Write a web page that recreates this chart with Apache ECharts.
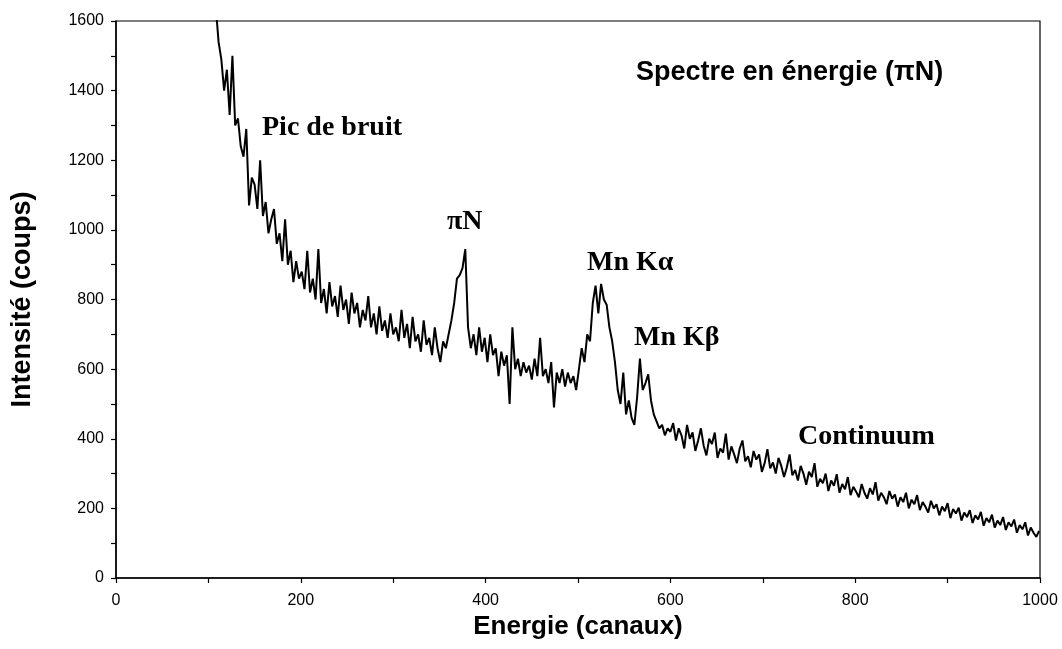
<!DOCTYPE html>
<html>
<head>
<meta charset="utf-8">
<script src="https://cdn.jsdelivr.net/npm/echarts@6/dist/echarts.min.js"></script>
<style>html,body{margin:0;padding:0;background:#fff;}#c{width:1062px;height:649px;}</style>
</head>
<body>
<div id="c"></div>
<script>
// Channel axis (canaux): first channel and step between listed values
const firstChannel = 108;
const channelStep = 3;
// Counts (coups), one per listed channel
const counts = [
  1640,1540,1490,1400,1460,1330,1500,1300,1320,1240,1210,1290,1070,1150,1130,1060,1200,1040,1080,990,
  1030,1060,960,990,910,1030,900,940,850,910,860,880,830,940,820,860,800,945,790,830,
  760,850,780,810,750,840,770,800,730,820,760,790,720,770,740,810,720,760,700,780,
  710,740,690,760,700,720,680,770,690,730,660,750,680,700,650,740,670,690,640,720,
  660,620,680,660,700,740,790,860,870,890,945,720,660,700,640,720,650,690,620,700,
  640,660,580,650,610,640,500,720,600,630,580,620,590,610,570,630,580,690,580,600,
  560,620,490,590,560,600,550,590,560,580,540,600,660,620,700,680,790,840,760,845,
  800,785,720,680,620,540,500,590,470,510,460,440,520,630,540,560,585,510,470,450,
  430,440,410,430,
  420,445,395,430,410,372,440,400,418,365,395,430,380,352,400,385,418,345,372,360,
  415,340,378,355,330,372,395,335,350,318,365,340,355,305,330,370,315,332,300,345,
  322,290,318,355,295,310,280,322,300,268,305,290,330,262,285,272,300,250,280,265,
  298,245,270,255,290,238,262,248,232,270,245,228,258,240,275,222,245,232,212,250,
  228,240,205,232,218,245,200,225,212,238,195,218,205,188,222,200,212,180,205,192,
  215,172,198,185,202,165,188,175,195,158,180,168,190,150,172,160,182,145,165,152,
  175,138,160,148,168,130,152,140,160,122,145,130,118,135
];
const yTicks = [0, 200, 400, 600, 800, 1000, 1200, 1400, 1600];
const xTicks = [0, 200, 400, 600, 800, 1000];

const seriesData = counts.map((v, i) => [firstChannel + i * channelStep, v]);

const chart = echarts.init(document.getElementById('c'), null, {renderer: 'canvas'});
const tickFont = 'Liberation Sans';
const serifLabel = 'bold 28px "Liberation Serif"';
chart.setOption({
  animation: false,
  backgroundColor: '#fff',
  grid: {left: 116, right: 22, top: 21, bottom: 71, show: true, borderColor: '#000', borderWidth: 1.2, backgroundColor: 'transparent'},
  xAxis: {
    type: 'value', min: xTicks[0], max: xTicks[xTicks.length - 1], interval: 200,
    name: 'Energie (canaux)', nameLocation: 'middle', nameGap: 36,
    nameTextStyle: {fontFamily: 'Liberation Sans', fontWeight: 'bold', fontSize: 26, color: '#000'},
    axisLine: {show: true, lineStyle: {color: '#000', width: 1.5}},
    axisTick: {show: true, inside: false, length: 5, lineStyle: {color: '#000', width: 1.2}},
    minorTick: {show: true, splitNumber: 2, length: 5, lineStyle: {color: '#000', width: 1.2}},
    axisLabel: {color: '#000', fontFamily: tickFont, fontSize: 16, margin: 15, formatter: v => String(v)},
    splitLine: {show: false}
  },
  yAxis: {
    type: 'value', min: yTicks[0], max: yTicks[yTicks.length - 1], interval: 200,
    name: 'Intensité (coups)', nameLocation: 'middle', nameGap: 80,
    nameTextStyle: {fontFamily: 'Liberation Sans', fontWeight: 'bold', fontSize: 27, color: '#000'},
    axisLine: {show: true, lineStyle: {color: '#000', width: 1.5}},
    axisTick: {show: true, inside: false, length: 5, lineStyle: {color: '#000', width: 1.2}},
    minorTick: {show: true, splitNumber: 2, length: 5, lineStyle: {color: '#000', width: 1.2}},
    axisLabel: {color: '#000', fontFamily: tickFont, fontSize: 16, margin: 12, formatter: v => String(v)},
    splitLine: {show: false}
  },
  series: [{
    type: 'line', data: seriesData, showSymbol: false, clip: true,
    lineStyle: {color: '#000', width: 2}
  }],
  graphic: [
    {type: 'text', x: 636, y: 73, style: {text: 'Spectre en énergie (πN)', font: 'bold 27px "Liberation Sans"', fill: '#000', verticalAlign: 'middle'}},
    {type: 'text', x: 262, y: 128, style: {text: 'Pic de bruit', font: serifLabel, fill: '#000', verticalAlign: 'middle'}},
    {type: 'text', x: 447, y: 222, style: {text: 'πN', font: serifLabel, fill: '#000', verticalAlign: 'middle'}},
    {type: 'text', x: 587, y: 263, style: {text: 'Mn Kα', font: serifLabel, fill: '#000', verticalAlign: 'middle'}},
    {type: 'text', x: 634, y: 338, style: {text: 'Mn Kβ', font: serifLabel, fill: '#000', verticalAlign: 'middle'}},
    {type: 'text', x: 798, y: 437, style: {text: 'Continuum', font: serifLabel, fill: '#000', verticalAlign: 'middle'}}
  ]
});
</script>
</body>
</html>
